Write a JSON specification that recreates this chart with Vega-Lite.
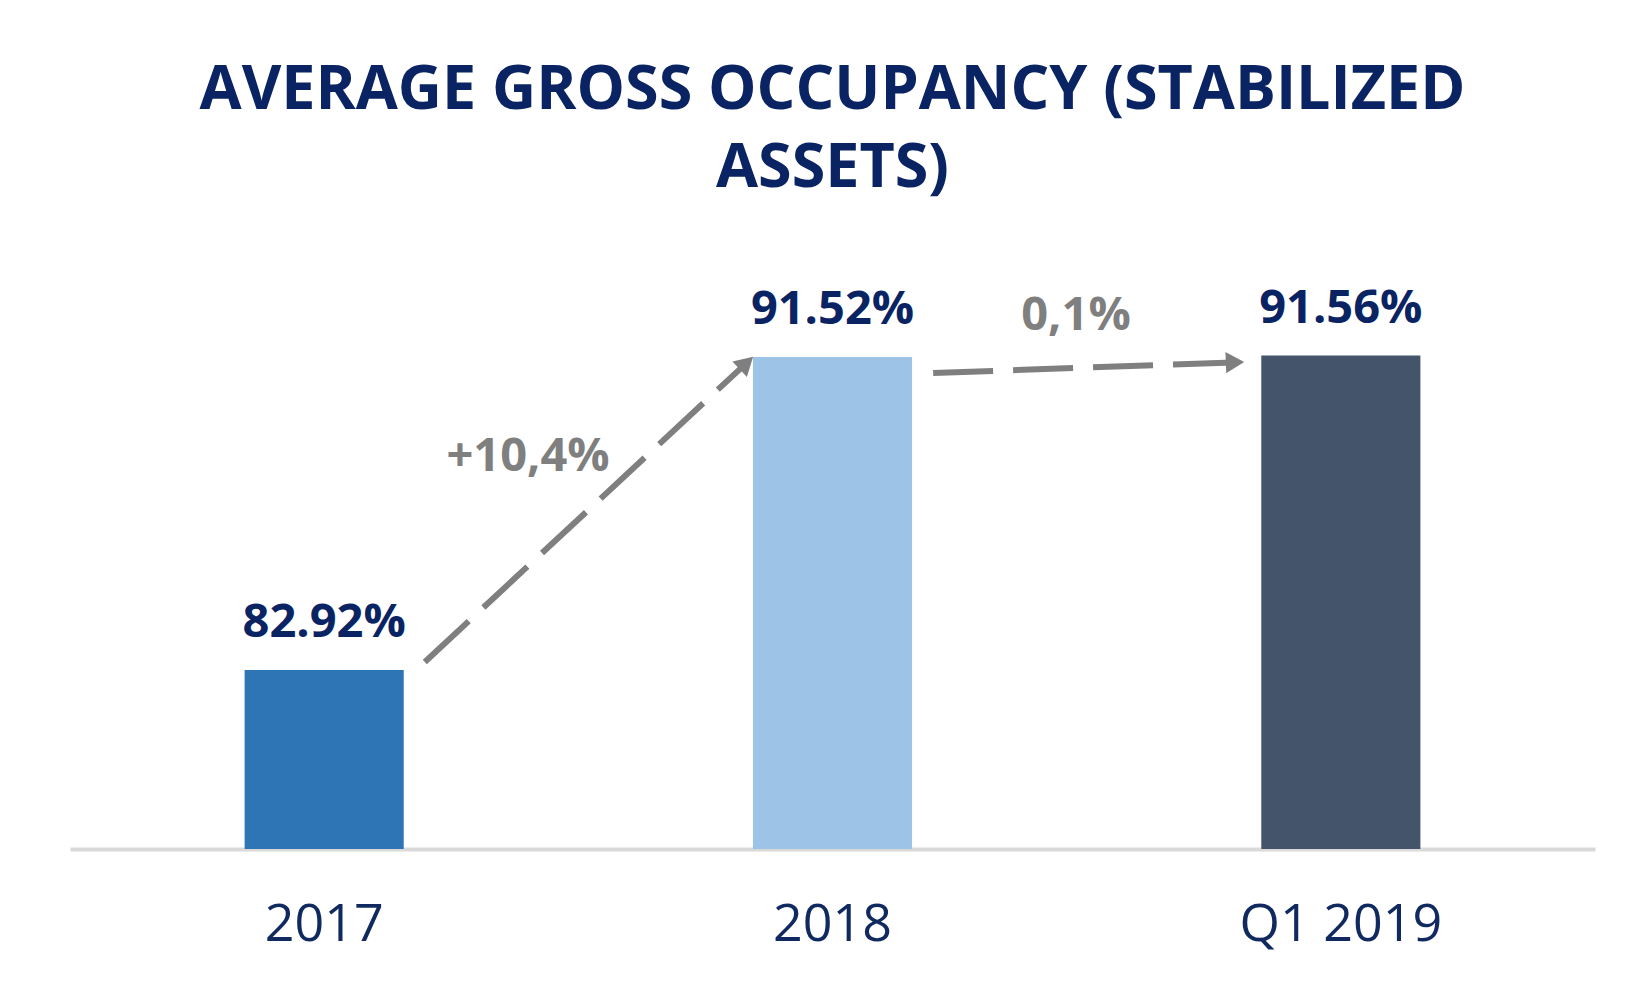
{
  "$schema": "https://vega.github.io/schema/vega-lite/v6.json",
  "autosize": {"type": "none"},
  "width": 1525,
  "height": 655,
  "padding": {"left": 70, "top": 194, "right": 39, "bottom": 135},
  "background": "white",
  "config": {"view": {"stroke": null}, "font": "Open Sans"},
  "title": {
    "text": ["AVERAGE GROSS OCCUPANCY (STABILIZED", "ASSETS)"],
    "font": "Open Sans",
    "fontSize": 61,
    "fontWeight": "bold",
    "color": "#0a2463",
    "anchor": "middle",
    "lineHeight": 78,
    "offset": -6
  },
  "datasets": {
    "bars": [
      {"period": "2017", "occupancy": 82.92, "base": 78, "label": "82.92%"},
      {"period": "2018", "occupancy": 91.52, "base": 78, "label": "91.52%"},
      {"period": "Q1 2019", "occupancy": 91.56, "base": 78, "label": "91.56%"}
    ],
    "arrows": [
      {"arrow": "a", "pos": 0.698, "value": 83.14, "order": 1},
      {"arrow": "a", "pos": 1.3306, "value": 91.353, "order": 2},
      {"arrow": "b", "pos": 1.698, "value": 91.08, "order": 1},
      {"arrow": "b", "pos": 2.2918, "value": 91.374, "order": 2}
    ],
    "heads": [
      {"arrow": "a", "pos": 1.3306, "value": 91.353, "angle": 47},
      {"arrow": "b", "pos": 2.2918, "value": 91.374, "angle": 88}
    ],
    "notes": [
      {"note": "+10,4%", "pos": 0.901, "value": 88.39},
      {"note": "0,1%", "pos": 1.979, "value": 92.26}
    ]
  },
  "layer": [
    {
      "data": {"name": "bars"},
      "encoding": {
        "x": {
          "field": "period",
          "type": "nominal",
          "sort": null,
          "scale": {"paddingInner": 0.687, "paddingOuter": 0.3435},
          "axis": {
            "title": null,
            "labelAngle": 0,
            "ticks": false,
            "domainColor": "#d9d9d9",
            "domainWidth": 4,
            "labelFont": "Open Sans",
            "labelFontSize": 52,
            "labelColor": "#10295e",
            "labelBaseline": "alphabetic",
            "labelPadding": 91,
            "labelLimit": 400
          }
        },
        "y": {
          "field": "occupancy",
          "type": "quantitative",
          "scale": {"domain": [78, 96], "zero": false},
          "axis": null
        }
      },
      "layer": [
        {
          "mark": {"type": "bar", "clip": true},
          "encoding": {
            "y2": {"field": "base"},
            "color": {
              "field": "period",
              "type": "nominal",
              "scale": {"domain": ["2017", "2018", "Q1 2019"], "range": ["#2e75b6", "#9dc3e6", "#44546a"]},
              "legend": null
            }
          }
        },
        {
          "mark": {"type": "text", "baseline": "alphabetic", "dy": -33, "font": "Open Sans", "fontWeight": "bold", "fontSize": 47, "color": "#0a2463"},
          "encoding": {"text": {"field": "label"}}
        }
      ]
    },
    {
      "encoding": {
        "x": {"field": "pos", "type": "quantitative", "scale": {"domain": [0, 3], "nice": false, "zero": false}, "axis": null},
        "y": {"field": "value", "type": "quantitative"}
      },
      "layer": [
        {
          "data": {"name": "arrows"},
          "mark": {"type": "line", "color": "#7f7f7f", "strokeWidth": 6, "strokeDash": [60, 20], "strokeCap": "butt"},
          "encoding": {"detail": {"field": "arrow"}, "order": {"field": "order"}}
        },
        {
          "data": {"name": "heads"},
          "mark": {"type": "point", "shape": "triangle-up", "filled": true, "color": "#7f7f7f", "size": 450, "opacity": 1},
          "encoding": {"angle": {"field": "angle", "type": "quantitative", "scale": null}}
        },
        {
          "data": {"name": "notes"},
          "mark": {"type": "text", "baseline": "alphabetic", "font": "Open Sans", "fontWeight": "bold", "fontSize": 47, "color": "#7f7f7f"},
          "encoding": {"text": {"field": "note"}}
        }
      ]
    }
  ],
  "resolve": {"scale": {"x": "independent"}, "axis": {"x": "independent"}}
}
